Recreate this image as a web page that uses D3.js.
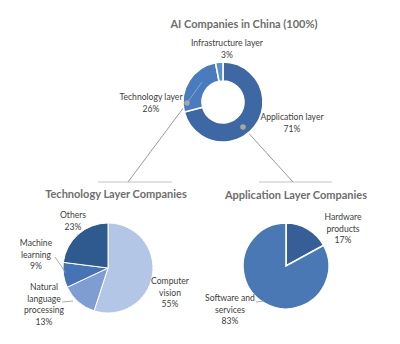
<!DOCTYPE html>
<html>
<head>
  <meta charset="utf-8">
  <title>AI Companies in China</title>
  <script src="https://d3js.org/d3.v7.min.js"></script>
  <style>
    body { margin: 0; background: #fff; }
    text { font-family: Lato, "Noto Sans", sans-serif; fill: #404040; }
    .ttl { font-weight: bold; fill: #6e6e6e; font-size: 11px; }
    .lbl { font-size: 8.6px; }
  </style>
</head>
<body>
<div id="chart"></div>
<script>
// top donut: all AI companies
var layerNames = ["Application layer", "Technology layer", "Infrastructure layer"];
var layerValues = [71, 26, 3];
// technology layer split
var techNames = ["Computer vision", "Natural language processing", "Machine learning", "Others"];
var techValues = [55, 13, 9, 23];
// application layer split
var appNames = ["Hardware products", "Software and services"];
var appValues = [17, 83];

var W = 400, H = 344;
var svg = d3.select("#chart").append("svg").attr("width", W).attr("height", H);

var pie = d3.pie().sort(null).value(function (d) { return d; });

function drawPie(cx, cy, r0, r1, values, colors, strokeW) {
  var g = svg.append("g").attr("transform", "translate(" + cx + "," + cy + ")");
  var arc = d3.arc().innerRadius(r0).outerRadius(r1);
  g.selectAll("path").data(pie(values)).enter().append("path")
    .attr("d", arc)
    .attr("fill", function (d, i) { return colors[i]; })
    .attr("stroke", "#fff")
    .attr("stroke-width", strokeW);
  return arc;
}

// a label block of several lines, centred on x
function label(x, y, lines, cls) {
  var t = svg.append("text").attr("class", cls || "lbl").attr("text-anchor", "middle");
  lines.forEach(function (s, i) {
    t.append("tspan").attr("x", x).attr("y", y + i * 11.5).text(s);
  });
}

// connector lines first so pies sit on top
var grey = "#9a9a9a";
svg.append("line").attr("x1", 98).attr("x2", 172).attr("y1", 182).attr("y2", 182).attr("stroke", "#c4c4c4").attr("stroke-width", 1.2);
svg.append("line").attr("x1", 259).attr("x2", 332).attr("y1", 182).attr("y2", 182).attr("stroke", "#c4c4c4").attr("stroke-width", 1.2);
svg.append("line").attr("x1", 187).attr("y1", 103).attr("x2", 128).attr("y2", 182).attr("stroke", grey).attr("stroke-width", 1);
svg.append("line").attr("x1", 243).attr("y1", 127).attr("x2", 293).attr("y2", 182).attr("stroke", grey).attr("stroke-width", 1);

// top donut
drawPie(223, 102, 21, 40, layerValues, ["#3d68a3", "#4a7bbd", "#5d8fcc"], 1.6);
svg.append("line").attr("x1", 187).attr("y1", 103).attr("x2", 202).attr("y2", 82).attr("stroke", "#8fb0dc").attr("stroke-width", 0.8);
svg.append("circle").attr("cx", 187).attr("cy", 103).attr("r", 2.8).attr("fill", "#a6a6a6");
svg.append("circle").attr("cx", 243).attr("cy", 127).attr("r", 2.8).attr("fill", "#a6a6a6");

// lower pies
drawPie(108, 268, 0, 45, techValues, ["#b4c6e6", "#7f9dd0", "#4673b4", "#2f5a90"], 1);
drawPie(286, 266, 0, 43, appValues, ["#365f98", "#4a78b4"], 1.6);

// small leader lines
svg.append("line").attr("x1", 55).attr("y1", 257).attr("x2", 66).attr("y2", 273).attr("stroke", grey).attr("stroke-width", 0.8);
svg.append("line").attr("x1", 62).attr("y1", 302).attr("x2", 73).attr("y2", 301).attr("stroke", grey).attr("stroke-width", 0.8);
svg.append("line").attr("x1", 256).attr("y1", 302).attr("x2", 264).attr("y2", 301).attr("stroke", grey).attr("stroke-width", 0.8);

// titles
label(244, 28, ["AI Companies in China (100%)"], "ttl");
label(116, 198, ["Technology Layer Companies"], "ttl");
label(296, 199, ["Application Layer Companies"], "ttl");

// donut labels
label(227, 46, [layerNames[2], layerValues[2] + "%"]);
label(151, 100, [layerNames[1], layerValues[1] + "%"]);
label(292, 120, [layerNames[0], layerValues[0] + "%"]);

// technology pie labels
label(73, 218, [techNames[3], techValues[3] + "%"]);
label(36, 246, ["Machine", "learning", techValues[2] + "%"]);
label(44, 290, ["Natural", "language", "processing", techValues[1] + "%"]);
label(170, 284, ["Computer", "vision", techValues[0] + "%"]);

// application pie labels
label(343, 220, ["Hardware", "products", appValues[0] + "%"]);
label(230, 301, ["Software and", "services", appValues[1] + "%"]);
</script>
</body>
</html>
